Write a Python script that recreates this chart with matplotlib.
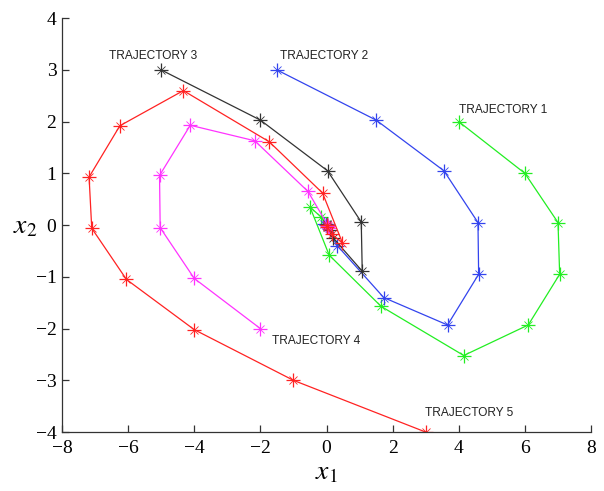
import matplotlib
matplotlib.use("Agg")
from matplotlib import pyplot as plt

plt.rcParams['mathtext.fontset'] = 'stix'

# trajectories (x1, x2)
traj1_x1 = [4.0, 6.0, 7.0, 7.05, 6.1, 4.15, 1.65, 0.08, -0.5, -0.17, -0.02, 0.0]
traj1_x2 = [2.0, 1.0, 0.05, -0.95, -1.93, -2.52, -1.57, -0.58, 0.35, 0.16, 0.02, 0.0]

traj2_x1 = [-1.5, 1.5, 3.55, 4.58, 4.6, 3.66, 1.73, 0.33, -0.08, -0.03, 0.0]
traj2_x2 = [3.0, 2.03, 1.05, 0.05, -0.95, -1.93, -1.4, -0.4, 0.03, 0.01, 0.0]

traj3_x1 = [-5.0, -2.0, 0.03, 1.05, 1.08, 0.19, 0.12, 0.0, 0.0]
traj3_x2 = [3.0, 2.03, 1.05, 0.06, -0.89, -0.24, -0.1, 0.02, 0.0]

traj4_x1 = [-2.0, -4.0, -5.03, -5.05, -4.12, -2.17, -0.56, 0.09, 0.03, 0.0]
traj4_x2 = [-2.0, -1.03, -0.05, 0.96, 1.93, 1.63, 0.65, -0.06, -0.02, 0.0]

traj5_x1 = [3.0, -1.0, -4.0, -6.05, -7.1, -7.18, -6.25, -4.33, -1.73, -0.12, 0.48, 0.16, 0.02, 0.0]
traj5_x2 = [-4.0, -3.0, -2.02, -1.05, -0.06, 0.93, 1.92, 2.6, 1.61, 0.62, -0.34, -0.18, -0.03, 0.0]

labels = ["TRAJECTORY 1", "TRAJECTORY 2", "TRAJECTORY 3", "TRAJECTORY 4", "TRAJECTORY 5"]
label_x = [4.0, -1.4, -6.58, -1.66, 2.98]
label_y = [2.22, 3.27, 3.27, -2.24, -3.63]


def main():
    fig = plt.figure(figsize=(6.04, 4.91), dpi=100)
    ax = fig.add_axes([0.1026, 0.120, 0.876, 0.843])

    series = [(traj1_x1, traj1_x2, "#22ee22"),
              (traj2_x1, traj2_x2, "#3344ee"),
              (traj3_x1, traj3_x2, "#333333"),
              (traj4_x1, traj4_x2, "#ff33ff"),
              (traj5_x1, traj5_x2, "#ff2222")]
    for xs, ys, c in series:
        ax.plot(xs, ys, color=c, lw=0.9)
        ax.plot(xs, ys, ls="none", color=c, marker="+", ms=10, mew=0.9)
        ax.plot(xs, ys, ls="none", color=c, marker="x", ms=6, mew=0.6)

    for t, x, y in zip(labels, label_x, label_y):
        ax.text(x, y, t, fontsize=8.6, family="Liberation Sans", color="#222222",
                va="center", ha="left")

    ax.set_xlim(-8, 8)
    ax.set_ylim(-4, 4)
    ax.set_xticks(range(-8, 9, 2))
    ax.set_yticks(range(-4, 5))
    for s in ["top", "right"]:
        ax.spines[s].set_visible(False)
    for s in ["left", "bottom"]:
        ax.spines[s].set_color("#333333")
        ax.spines[s].set_linewidth(0.9)
    ax.tick_params(direction="in", length=5, width=0.9, color="#333333",
                   labelsize=14)
    ax.tick_params(axis="x", pad=6)
    ax.tick_params(axis="y", pad=4)
    for lab in ax.get_xticklabels() + ax.get_yticklabels():
        lab.set_family("Liberation Serif")

    ax.set_xlabel(r"$x_1$", fontsize=20, labelpad=0)
    ax.set_ylabel(r"$x_2$", fontsize=20, rotation=0, va="center", ha="center")
    ax.yaxis.set_label_coords(-0.07, 0.5)

    fig.savefig("out.png", dpi=100)


if __name__ == '__main__':
    main()
